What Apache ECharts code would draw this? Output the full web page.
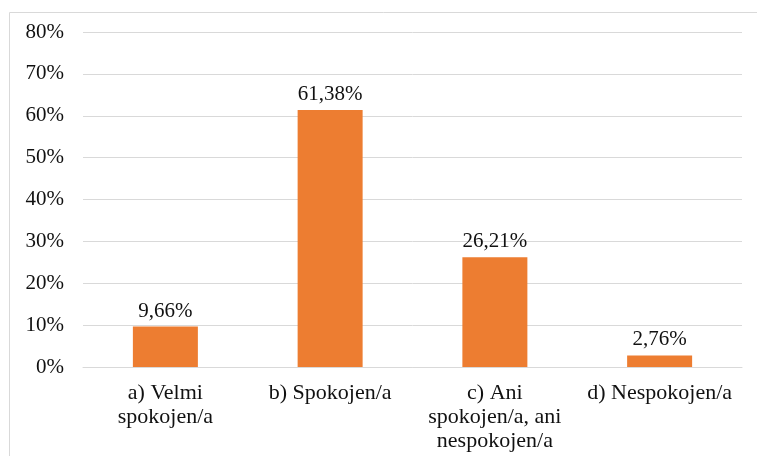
<!DOCTYPE html>
<html><head><meta charset="utf-8">
<script src="https://cdn.jsdelivr.net/npm/echarts@6/dist/echarts.min.js"></script>
<style>html,body{margin:0;padding:0;background:#fff}#c{width:757px;height:456px}</style>
</head><body><div id="c"></div>
<script>
const categories = ['a) Velmi\nspokojen/a', 'b) Spokojen/a', 'c) Ani\nspokojen/a, ani\nnespokojen/a', 'd) Nespokojen/a'];
const values = [9.66, 61.38, 26.21, 2.76];
const chart = echarts.init(document.getElementById('c'));
const font = 'Liberation Serif';
chart.setOption({
  animation: false,
  graphic: [{type:'rect', shape:{x:9.5,y:12.5,width:800,height:500}, style:{fill:'none',stroke:'#d9d9d9',lineWidth:1}, silent:true, z:-1}],
  grid: {left: 83, right: 15, top: 32, bottom: 89},
  xAxis: {
    type: 'category', data: categories,
    axisLine: {lineStyle: {color: '#d9d9d9'}},
    axisTick: {show: false},
    axisLabel: {color: '#111', fontFamily: font, fontSize: 22, lineHeight: 24, margin: 14, interval: 0}
  },
  yAxis: {
    type: 'value', min: 0, max: 80, interval: 10,
    axisLine: {show: false}, axisTick: {show: false},
    splitLine: {lineStyle: {color: '#d9d9d9', width: 1}},
    axisLabel: {formatter: '{value}%', color: '#111', fontFamily: font, fontSize: 21, margin: 19}
  },
  series: [{
    type: 'bar', data: values, barWidth: 65,
    itemStyle: {color: '#ED7D31'},
    label: {show: true, position: 'top', distance: 5, color: '#111', fontFamily: font, fontSize: 21,
      formatter: p => p.value.toFixed(2).replace('.', ',') + '%'}
  }]
});
</script></body></html>
